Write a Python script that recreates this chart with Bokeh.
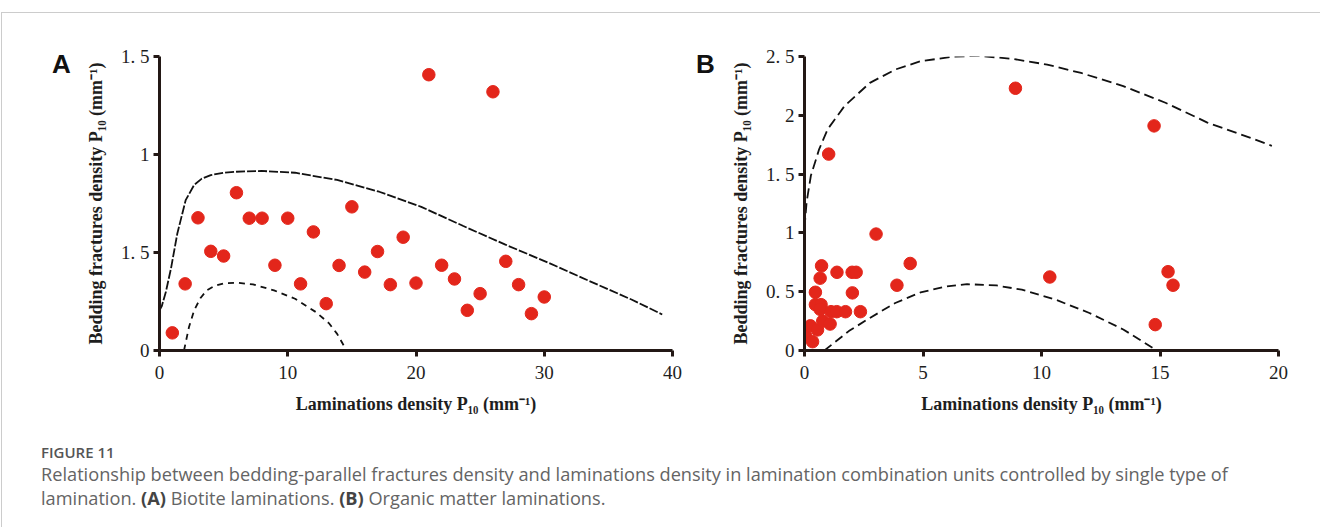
from bokeh.plotting import figure
from bokeh.models import FixedTicker, Div
from bokeh.layouts import row, column
from bokeh.embed import file_html
from bokeh.resources import INLINE

# ---------------- data: panel A (biotite laminations) ----------------
a_x = list(range(1, 31))
a_y = [0.09, 0.34, 0.677, 0.506, 0.482, 0.805, 0.675, 0.675, 0.435, 0.675,
       0.34, 0.605, 0.239, 0.434, 0.733, 0.40, 0.505, 0.336, 0.578, 0.344,
       1.407, 0.435, 0.365, 0.205, 0.29, 1.32, 0.455, 0.336, 0.188, 0.273]
a_up_x = [0.0, 0.17, 0.5, 0.9, 1.39, 2.04, 2.70, 3.3, 4.0, 5.0, 5.98, 7.95, 10.57,
          13.85, 17.13, 20.41, 23.69, 26.97, 30.25, 33.5, 36.8, 39.2]
a_up_y = [0.205, 0.225, 0.30, 0.42, 0.597, 0.767, 0.845, 0.877, 0.895, 0.907, 0.912,
          0.916, 0.907, 0.87, 0.81, 0.733, 0.635, 0.54, 0.45, 0.355, 0.26, 0.184]
a_lo_x = [1.91, 2.3, 2.7, 3.2, 3.68, 4.3, 5.0, 6.0, 7.29, 8.93, 10.57, 12.2, 13.2,
          13.85, 14.44]
a_lo_y = [0.0, 0.12, 0.205, 0.268, 0.307, 0.33, 0.342, 0.346, 0.337, 0.307, 0.264,
          0.196, 0.14, 0.085, 0.017]
a_xticks = [0, 10, 20, 30, 40]
a_yticks = [0, 0.5, 1, 1.5]
a_ylabels = {0.5: "1. 5", 1.5: "1. 5"}

# ---------------- data: panel B (organic matter laminations) ----------------
b_x = [0.06, 0.34, 0.25, 0.55, 0.46, 0.46, 0.70, 0.66, 0.66, 0.72, 0.77, 1.08,
       1.12, 1.36, 1.37, 1.73, 2.01, 2.18, 2.02, 2.36, 1.02, 3.02, 3.90, 4.46,
       8.90, 14.75, 10.35, 15.34, 15.55, 14.80]
b_y = [0.12, 0.075, 0.21, 0.175, 0.39, 0.495, 0.39, 0.35, 0.615, 0.72, 0.25, 0.225,
       0.33, 0.33, 0.665, 0.33, 0.665, 0.665, 0.49, 0.33, 1.67, 0.99, 0.555, 0.74,
       2.23, 1.91, 0.625, 0.67, 0.555, 0.22]
b_up_x = [0.0, 0.09, 0.27, 0.62, 0.98, 1.69, 2.76, 3.83, 4.90, 6.32, 7.39, 8.81,
          10.24, 11.67, 13.45, 15.23, 17.0, 18.79, 19.72]
b_up_y = [1.04, 1.263, 1.488, 1.713, 1.882, 2.079, 2.276, 2.389, 2.46, 2.50, 2.505,
          2.479, 2.431, 2.36, 2.248, 2.107, 1.938, 1.81, 1.74]
b_lo_x = [0.84, 1.87, 2.76, 3.83, 4.9, 5.97, 6.86, 8.10, 9.17, 10.6, 12.02, 13.45, 14.87]
b_lo_y = [0.0, 0.165, 0.277, 0.404, 0.494, 0.545, 0.564, 0.553, 0.517, 0.432, 0.319,
          0.179, 0.0]
b_xticks = [0, 5, 10, 15, 20]
b_yticks = [0, 0.5, 1, 1.5, 2, 2.5]
b_ylabels = {0.5: "0. 5", 1.5: "1. 5", 2.5: "2. 5"}

x_title = "Laminations density P\u2081\u2080 (mm\u207b\u00b9)"
y_title = "Bedding fractures density P\u2081\u2080 (mm\u207b\u00b9)"

AX = "#231815"
RED = "#e3261b"
SERIF = "Liberation Serif"
FIG_H = 420


def make_panel(xr, yr, xt, yt, ylab, pts, up, lo, width, bl, br, up_dash, lo_dash):
    p = figure(width=width, height=FIG_H, x_range=xr, y_range=yr,
               output_backend="svg", toolbar_location=None,
               min_border_left=bl, min_border_right=br,
               min_border_top=43, min_border_bottom=FIG_H - 43 - 294)
    p.outline_line_color = None
    p.grid.visible = False
    p.background_fill_color = None
    p.border_fill_color = None

    p.line(up[0], up[1], line_color="#111111", line_width=1.8, line_dash=up_dash)
    p.line(lo[0], lo[1], line_color="#111111", line_width=1.8, line_dash=lo_dash)
    p.scatter(pts[0], pts[1], size=12.5, fill_color=RED, line_color=RED)

    for ax in (p.xaxis[0], p.yaxis[0]):
        ax.axis_line_width = 3
        ax.axis_line_color = AX
        ax.major_tick_line_width = 3
        ax.major_tick_line_color = AX
        ax.major_tick_out = 6
        ax.major_tick_in = 0
        ax.minor_tick_line_color = None
        ax.major_label_text_font = SERIF
        ax.major_label_text_font_size = "19px"
        ax.major_label_text_color = "#1e1e1e"
        ax.axis_label_text_font = SERIF
        ax.axis_label_text_font_style = "bold"
        ax.axis_label_text_font_size = "18px"
        ax.axis_label_text_color = "#1e1e1e"
    p.xaxis[0].ticker = FixedTicker(ticks=xt)
    p.yaxis[0].ticker = FixedTicker(ticks=yt)
    p.yaxis[0].major_label_overrides = ylab
    p.xaxis[0].axis_label = x_title
    p.yaxis[0].axis_label = y_title
    p.xaxis[0].major_label_standoff = 9
    p.yaxis[0].major_label_standoff = 4
    p.xaxis[0].axis_label_standoff = 12
    p.yaxis[0].axis_label_standoff = 12
    return p


def letter(t, w, pad_left):
    return Div(text=t, width=w, height=60,
               styles={"font-family": "Liberation Sans", "font-weight": "bold",
                       "font-size": "26px", "line-height": "30px",
                       "color": "#111111", "padding-top": "31px",
                       "padding-left": f"{pad_left}px"})


pA = make_panel((0, 40), (0, 1.5), a_xticks, a_yticks, a_ylabels,
                (a_x, a_y), (a_up_x, a_up_y), (a_lo_x, a_lo_y),
                609, 77, 19, "9 2", "6 5")
pB = make_panel((0, 20), (0, 2.5), b_xticks, b_yticks, b_ylabels,
                (b_x, b_y), (b_up_x, b_up_y), (b_lo_x, b_lo_y),
                585, 75, 34, "10 5", "9 5")

caption = Div(
    text=("<div style='font-family:\"Open Sans\";font-size:15px;font-weight:600;"
          "color:#555555;line-height:20px;'>FIGURE 11</div>"
          "<div style='font-family:\"Open Sans\";font-size:18.2px;color:#646464;"
          "line-height:24px;white-space:nowrap;'>Relationship between bedding-parallel "
          "fractures density and laminations density in lamination combination units "
          "controlled by single type of<br>lamination. <b style='color:#444'>(A)</b> "
          "Biotite laminations. <b style='color:#444'>(B)</b> Organic matter "
          "laminations.</div>"),
    width=1310, height=86,
    styles={"padding-left": "34px", "padding-top": "4px"},
)

layout = column(row(letter("A", 70, 45), pA, letter("B", 26, 0), pB), caption,
                styles={"border-top": "1px solid #cccccc",
                        "border-left": "1px solid #cccccc"},
                margin=(12, 0, 0, 1))

open("out.html", "w").write(file_html(layout, INLINE))
